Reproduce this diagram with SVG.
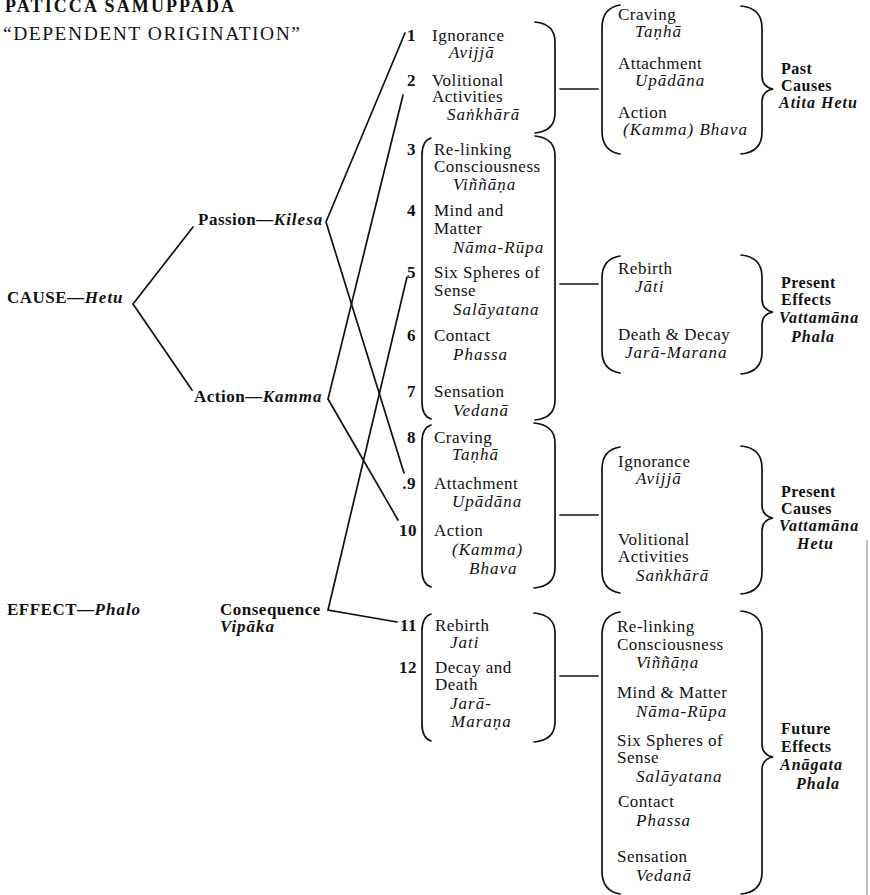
<svg xmlns="http://www.w3.org/2000/svg" width="870" height="895" viewBox="0 0 870 895">
<style>
text{font-family:"Liberation Serif","Times New Roman",serif;font-size:17px;letter-spacing:0.5px;fill:#111}
.i{font-style:italic;letter-spacing:1px}
.b{font-weight:bold}
.bi{font-weight:bold;font-style:italic;letter-spacing:1px}
.n{font-weight:bold;text-anchor:end}
.l{font-size:16px;font-weight:bold}
.li{font-size:16px;font-weight:bold;font-style:italic;letter-spacing:1px}
.t1{font-size:18px;font-weight:bold;letter-spacing:1px}
.t2{font-size:19.5px;letter-spacing:1px}
.br,.c{stroke:#111;stroke-width:1.7;fill:none;stroke-linecap:round}
</style>
<rect width="870" height="895" fill="#fff"/>
<g id="title">
<text x="5" y="12" class="t1" textLength="230" lengthAdjust="spacing">PATICCA SAMUPPADA</text>
<text x="3" y="40" class="t2" textLength="298" lengthAdjust="spacing">“DEPENDENT ORIGINATION”</text>
</g>
<g id="cause"><text x="7" y="303" class="b">CAUSE—<tspan class="bi">Hetu</tspan></text></g>
<g id="effect"><text x="7" y="615" class="b">EFFECT—<tspan class="bi">Phalo</tspan></text></g>
<g id="passion"><text x="198" y="225" class="b">Passion—<tspan class="bi">Kilesa</tspan></text></g>
<g id="action"><text x="194" y="402" class="b">Action—<tspan class="bi">Kamma</tspan></text></g>
<g id="consequence"><text x="220" y="615" class="b">Consequence</text><text x="220" y="632" class="bi">Vipāka</text></g>

<g id="links-1-2">
<text x="416" y="41" class="n">1</text><text x="432" y="41">Ignorance</text><text x="449" y="58" class="i">Avijjā</text>
<text x="416" y="86" class="n">2</text><text x="432" y="86">Volitional</text><text x="432" y="102">Activities</text><text x="447" y="120" class="i">Saṅkhārā</text>
<path class="br" d="M535 22 Q555 24 555 42 L555 113 Q555 131 535 133"/>
</g>
<g id="links-3-7">
<text x="416" y="155" class="n">3</text><text x="434" y="155">Re-linking</text><text x="434" y="172">Consciousness</text><text x="453" y="190" class="i">Viññāṇa</text>
<text x="416" y="216" class="n">4</text><text x="434" y="216">Mind and</text><text x="434" y="234">Matter</text><text x="453" y="253" class="i">Nāma-Rūpa</text>
<text x="416" y="278" class="n">5</text><text x="434" y="278">Six Spheres of</text><text x="434" y="296">Sense</text><text x="453" y="315" class="i">Salāyatana</text>
<text x="416" y="341" class="n">6</text><text x="434" y="341">Contact</text><text x="453" y="360" class="i">Phassa</text>
<text x="416" y="397" class="n">7</text><text x="434" y="397">Sensation</text><text x="453" y="416" class="i">Vedanā</text>
<path class="br" d="M431 138 Q422 141 422 155 L422 402 Q422 416 431 419"/>
<path class="br" d="M535 136 Q555 138 555 156 L555 400 Q555 418 535 420"/>
</g>
<g id="links-8-10">
<text x="416" y="443" class="n">8</text><text x="434" y="443">Craving</text><text x="452" y="460" class="i">Taṇhā</text>
<text x="416" y="489" class="n">.9</text><text x="434" y="489">Attachment</text><text x="452" y="507" class="i">Upādāna</text>
<text x="417" y="536" class="n">10</text><text x="434" y="536">Action</text><text x="452" y="555" class="i">(Kamma)</text><text x="469" y="574" class="i">Bhava</text>
<path class="br" d="M431 425 Q422 428 422 442 L422 570 Q422 584 431 587"/>
<path class="br" d="M534 423 Q555 425 555 443 L555 568 Q555 586 534 588"/>
</g>
<g id="links-11-12">
<text x="417" y="631" class="n">11</text><text x="435" y="631">Rebirth</text><text x="450" y="648" class="i">Jati</text>
<text x="417" y="673" class="n">12</text><text x="435" y="673">Decay and</text><text x="435" y="690">Death</text><text x="450" y="709" class="i">Jarā-</text><text x="451" y="727" class="i">Maraṇa</text>
<path class="br" d="M431 614 Q422 617 422 631 L422 724 Q422 738 431 741"/>
<path class="br" d="M534 613 Q555 615 555 633 L555 722 Q555 740 534 742"/>
</g>

<g id="past-causes">
<path class="br" d="M620 5 Q602 8 602 28 L602 131 Q602 151 620 154"/>
<text x="618" y="20">Craving</text><text x="635" y="37" class="i">Taṇhā</text>
<text x="618" y="69">Attachment</text><text x="635" y="86" class="i">Upādāna</text>
<text x="618" y="118">Action</text><text x="623" y="135" class="i">(Kamma) Bhava</text>
<path class="br" d="M741 6 Q762 8 762 28 L762 76 Q762 87 773 89 Q762 91 762 102 L762 132 Q762 152 741 154"/>
<text x="781" y="74" class="l">Past</text><text x="781" y="91" class="l">Causes</text><text x="779" y="108" class="li">Atita Hetu</text>
</g>
<g id="present-effects">
<path class="br" d="M620 256 Q602 259 602 278 L602 351 Q602 370 620 373"/>
<text x="618" y="274">Rebirth</text><text x="635" y="292" class="i">Jāti</text>
<text x="618" y="340">Death &amp; Decay</text><text x="625" y="358" class="i">Jarā-Marana</text>
<path class="br" d="M741 255 Q762 257 762 277 L762 299 Q762 310 773 312 Q762 314 762 325 L762 352 Q762 372 741 374"/>
<text x="781" y="288" class="l">Present</text><text x="781" y="305" class="l">Effects</text><text x="779" y="323" class="li">Vattamāna</text><text x="791" y="342" class="li">Phala</text>
</g>
<g id="present-causes">
<path class="br" d="M620 447 Q602 450 602 469 L602 571 Q602 590 620 593"/>
<text x="618" y="467">Ignorance</text><text x="636" y="484" class="i">Avijjā</text>
<text x="618" y="545">Volitional</text><text x="618" y="562">Activities</text><text x="636" y="581" class="i">Saṅkhārā</text>
<path class="br" d="M741 446 Q762 448 762 468 L762 505 Q762 516 773 518 Q762 520 762 531 L762 572 Q762 592 741 594"/>
<text x="781" y="497" class="l">Present</text><text x="781" y="514" class="l">Causes</text><text x="779" y="531" class="li">Vattamāna</text><text x="797" y="549" class="li">Hetu</text>
</g>
<g id="future-effects">
<path class="br" d="M620 612 Q602 615 602 635 L602 871 Q602 891 620 894"/>
<text x="617" y="632">Re-linking</text><text x="617" y="650">Consciousness</text><text x="636" y="668" class="i">Viññāṇa</text>
<text x="617" y="698">Mind &amp; Matter</text><text x="636" y="717" class="i">Nāma-Rūpa</text>
<text x="617" y="746">Six Spheres of</text><text x="617" y="763">Sense</text><text x="636" y="782" class="i">Salāyatana</text>
<text x="618" y="807">Contact</text><text x="636" y="826" class="i">Phassa</text>
<text x="617" y="862">Sensation</text><text x="636" y="881" class="i">Vedanā</text>
<path class="br" d="M741 611 Q762 613 762 633 L762 744 Q762 755 773 757 Q762 759 762 770 L762 872 Q762 892 741 894"/>
<text x="781" y="734" class="l">Future</text><text x="781" y="752" class="l">Effects</text><text x="780" y="770" class="li">Anāgata</text><text x="796" y="789" class="li">Phala</text>
</g>

<g id="connectors">
<polyline class="c" points="193,227 133,304 192,390"/>
<polyline class="c" points="405,33 326,222 404,473"/>
<polyline class="c" points="403,95 328,399 398,520"/>
<polyline class="c" points="407,277 328,610 397,622"/>
<line class="c" x1="560" y1="89" x2="598" y2="89"/>
<line class="c" x1="560" y1="284" x2="598" y2="284"/>
<line class="c" x1="560" y1="515" x2="598" y2="515"/>
<line class="c" x1="560" y1="676" x2="598" y2="676"/>
</g>
<line x1="867" y1="540" x2="867" y2="895" stroke="#aaa" stroke-width="1.5"/>
</svg>
